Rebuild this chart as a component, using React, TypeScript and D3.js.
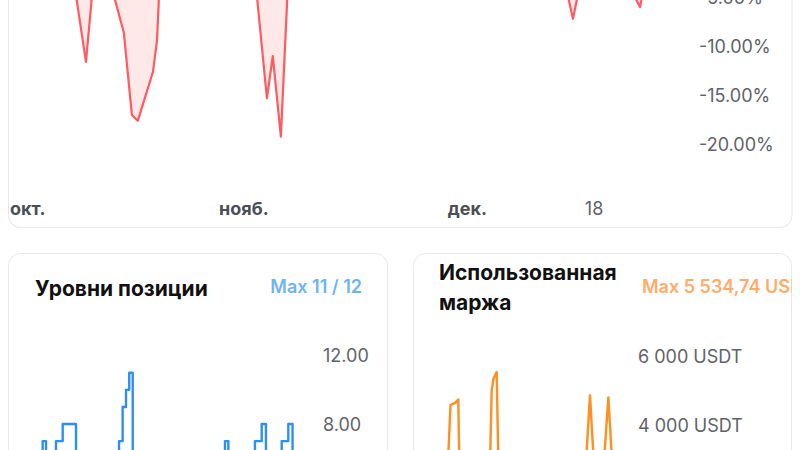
import React from "react";
import * as d3 from "d3";

// ---------- data ----------
const drawdownDates = [
  "2024-10-01T00:00", "2024-10-03T12:00", "2024-10-05T00:00", "2024-10-07T06:00",
  "2024-10-09T08:00", "2024-10-10T19:00", "2024-10-11T17:00", "2024-10-12T12:00",
  "2024-10-14T04:00", "2024-10-15T21:00", "2024-10-16T23:00", "2024-10-17T18:00",
  "2024-10-19T19:00", "2024-10-20T08:00", "2024-10-20T17:00", "2024-10-23T00:00",
  "2024-10-26T00:00", "2024-10-29T00:00", "2024-11-01T00:00", "2024-11-02T15:00",
  "2024-11-04T02:00", "2024-11-04T21:00", "2024-11-05T23:00", "2024-11-06T22:00",
  "2024-11-09T00:00", "2024-11-13T00:00", "2024-11-17T00:00", "2024-11-21T00:00",
  "2024-11-25T00:00", "2024-11-29T00:00", "2024-12-02T00:00", "2024-12-06T00:00",
  "2024-12-09T00:00", "2024-12-12T00:00", "2024-12-14T09:00", "2024-12-15T04:00",
  "2024-12-15T23:00", "2024-12-18T00:00", "2024-12-20T00:00", "2024-12-23T08:00",
  "2024-12-24T04:00", "2024-12-24T13:00", "2024-12-26T00:00", "2024-12-28T00:00",
];
const drawdownValues = [
  0, -1.8, -0.6, -2.9,
  -4.2, -11.6, -4.0, -1.5,
  -3.8, -8.6, -17.0, -17.6,
  -12.6, -9.4, -3.0, -1.2,
  -2.4, -0.5, -1.8, -4.0,
  -15.3, -11.0, -19.2, -3.5,
  -1.0, -2.6, -0.8, -3.1,
  -1.4, -2.2, -0.7, -2.8,
  -4.1, -1.5, -4.5, -7.2,
  -4.3, -2.0, -3.4, -4.8,
  -6.0, -4.6, -1.3, -0.4,
];

const levelDates = [
  "2024-10-01T00:00", "2024-10-05T02:00", "2024-10-06T04:00", "2024-10-09T09:00",
  "2024-10-11T13:00", "2024-10-15T20:00", "2024-10-23T14:00", "2024-10-29T17:00",
  "2024-10-30T21:00", "2024-10-31T23:00", "2024-11-02T00:00", "2024-11-03T03:00",
  "2024-11-15T04:00", "2024-11-24T20:00", "2024-12-02T21:00", "2024-12-03T23:00",
  "2024-12-12T13:00", "2024-12-14T17:00", "2024-12-16T02:00", "2024-12-21T04:00",
  "2024-12-23T07:00", "2024-12-24T16:00", "2024-12-29T00:00",
];
const levelValues = [
  2, 7, 4, 7,
  8, 2, 5, 7,
  9, 10, 11, 1,
  4, 2, 7, 3,
  7, 8, 2, 7,
  8, 3, 3,
];

const marginDates = [
  "2024-10-01T00:00", "2024-10-06T02:00", "2024-10-08T20:00", "2024-10-11T20:00",
  "2024-10-13T22:00", "2024-10-15T10:00", "2024-10-16T16:00", "2024-10-23T03:00",
  "2024-10-29T03:00", "2024-10-30T20:00", "2024-10-31T18:00", "2024-11-02T03:00",
  "2024-11-03T16:00", "2024-11-12T21:00", "2024-11-24T10:00", "2024-12-03T15:00",
  "2024-12-08T06:00", "2024-12-11T23:00", "2024-12-15T04:00", "2024-12-18T09:00",
  "2024-12-20T06:00", "2024-12-23T15:00", "2024-12-26T17:00", "2024-12-29T00:00",
];
const marginValues = [
  600, 1900, 300, 4580,
  4640, 4740, 0, 900,
  400, 5010, 5360, 5534.74,
  300, 1400, 700, 2200,
  900, 1500, 4860, 1300,
  1700, 4800, 1500, 1100,
];

const timeDomain = ["2024-10-01T00:00", "2024-12-29T00:00"];
const topTickDates = ["2024-10-01T00:00", "2024-11-01T00:00", "2024-12-01T00:00", "2024-12-18T00:00"];
const topTickLabels = ["окт.", "нояб.", "дек.", "18"];
const topTickIsMonth = [true, true, true, false];
const drawdownTicks = [-5, -10, -15, -20];
const levelTicks = [12, 8];
const marginTicks = [6000, 4000];

const levelTitle = "Уровни позиции";
const levelMax = "Max 11 / 12";
const marginTitle = ["Использованная", "маржа"];
const marginMax = "Max 5 534,74 USDT";

// ---------- helpers ----------
const parse = d3.timeParse("%Y-%m-%dT%H:%M");
const FONT = "Inter, 'Noto Sans', sans-serif";
const fmtPct = (v: number) => `${v.toFixed(2)}%`;
const fmtLvl = (v: number) => v.toFixed(2);
const fmtUsdt = (v: number) => `${d3.format(",")(v).replace(/,/g, "\u00a0")} USDT`;

export default function App() {
  const domain = timeDomain.map((s) => parse(s) as Date);

  // top: drawdown
  const xTop = d3.scaleTime().domain(domain).range([13, 676]);
  const yTop = d3.scaleLinear().domain([0, -20]).range([-52, 144.4]);
  const ddData = drawdownDates.map((d, i) => ({ t: parse(d) as Date, v: drawdownValues[i] }));
  const ddLine = d3.line<{ t: Date; v: number }>().x((d) => xTop(d.t)).y((d) => yTop(d.v));
  const ddArea = d3
    .area<{ t: Date; v: number }>()
    .x((d) => xTop(d.t))
    .y0(yTop(0))
    .y1((d) => yTop(d.v));

  // bottom-left: levels
  const xLvl = d3.scaleTime().domain(domain).range([30, 306]);
  const yLvl = d3.scaleLinear().domain([0, 12]).range([560.6, 355.7]);
  const lvlData = levelDates.map((d, i) => ({ t: parse(d) as Date, v: levelValues[i] }));
  const lvlLine = d3
    .line<{ t: Date; v: number }>()
    .x((d) => xLvl(d.t))
    .y((d) => yLvl(d.v))
    .curve(d3.curveStepAfter);

  // bottom-right: margin
  const xMar = d3.scaleTime().domain(domain).range([427, 620]);
  const yMar = d3.scaleLinear().domain([0, 6000]).range([563, 356]);
  const marData = marginDates.map((d, i) => ({ t: parse(d) as Date, v: marginValues[i] }));
  const marLine = d3.line<{ t: Date; v: number }>().x((d) => xMar(d.t)).y((d) => yMar(d.v));

  const cardStroke = "#e6e8eb";
  const axisGray = "#5f6369";

  return (
    <svg
      width={800}
      height={450}
      style={{ position: "absolute", left: 0, top: 0, background: "#fff" }}
      fontFamily={FONT}
    >
      <defs>
        <clipPath id="cardR">
          <rect x={413.5} y={253.5} width={378} height={400} rx={12} />
        </clipPath>
        <clipPath id="cardL">
          <rect x={8.5} y={253.5} width={379} height={400} rx={12} />
        </clipPath>
      </defs>
      <rect x={0} y={0} width={800} height={450} fill="#fff" />

      {/* top card */}
      <rect x={8.5} y={-300} width={783.5} height={527.5} rx={12} fill="#fff" stroke={cardStroke} />
      <path d={ddArea(ddData) || ""} fill="#ff5a5f" fillOpacity={0.14} />
      <path d={ddLine(ddData) || ""} fill="none" stroke="#ff5a5f" strokeWidth={2.2} strokeLinejoin="round" />
      {drawdownTicks.map((t) => (
        <text key={t} x={699} y={yTop(t)} dominantBaseline="central" fontSize={18} fill={axisGray}>
          {fmtPct(t)}
        </text>
      ))}
      {topTickDates.map((d, i) => {
        const x = xTop(parse(d) as Date);
        const clamp = x < 30;
        return (
          <text
            key={d}
            x={clamp ? 10 : x}
            y={208}
            textAnchor={clamp ? "start" : "middle"}
            dominantBaseline="central"
            fontSize={18}
            fontWeight={topTickIsMonth[i] ? 700 : 400}
            fill={topTickIsMonth[i] ? "#4a4e55" : axisGray}
          >
            {topTickLabels[i]}
          </text>
        );
      })}

      {/* bottom-left card */}
      <rect x={8.5} y={253.5} width={379} height={400} rx={12} fill="#fff" stroke={cardStroke} />
      <g clipPath="url(#cardL)">
        <text x={35} y={288} dominantBaseline="central" fontSize={21} fontWeight={700} fill="#111">
          {levelTitle}
        </text>
        <text x={362} y={286} textAnchor="end" dominantBaseline="central" fontSize={18} fontWeight={600} fill="#6db4f3">
          {levelMax}
        </text>
        {levelTicks.map((t) => (
          <text key={t} x={323} y={yLvl(t)} dominantBaseline="central" fontSize={18} fill={axisGray}>
            {fmtLvl(t)}
          </text>
        ))}
        <path d={lvlLine(lvlData) || ""} fill="none" stroke="#2f8ff0" strokeWidth={2.4} strokeLinejoin="round" />
      </g>

      {/* bottom-right card */}
      <rect x={413.5} y={253.5} width={378} height={400} rx={12} fill="#fff" stroke={cardStroke} />
      <g clipPath="url(#cardR)">
        <text x={439} y={272} dominantBaseline="central" fontSize={21} fontWeight={700} fill="#111">
          {marginTitle[0]}
        </text>
        <text x={439} y={302} dominantBaseline="central" fontSize={21} fontWeight={700} fill="#111">
          {marginTitle[1]}
        </text>
        <text x={642} y={286} dominantBaseline="central" fontSize={18} fontWeight={600} fill="#ffab6b">
          {marginMax}
        </text>
        {marginTicks.map((t) => (
          <text key={t} x={638} y={yMar(t)} dominantBaseline="central" fontSize={18} fill={axisGray}>
            {fmtUsdt(t)}
          </text>
        ))}
        <path d={marLine(marData) || ""} fill="none" stroke="#ff8f1f" strokeWidth={2.4} strokeLinejoin="round" />
      </g>
    </svg>
  );
}
